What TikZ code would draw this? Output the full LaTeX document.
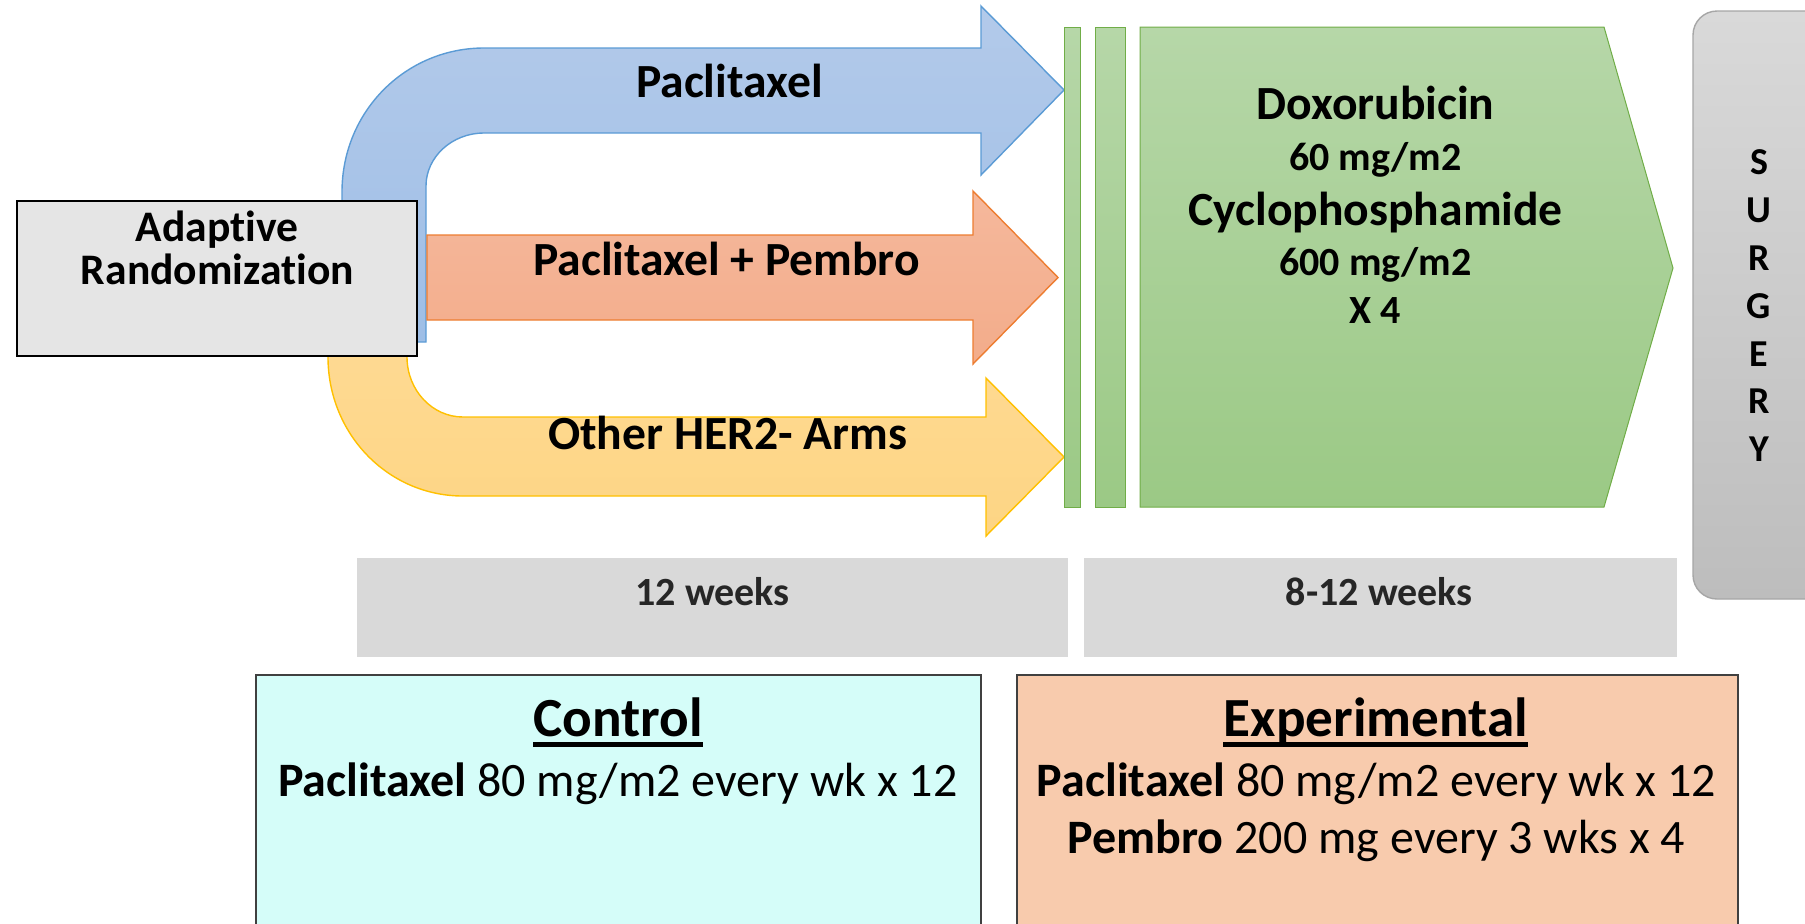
\documentclass[tikz,border=0pt]{standalone}
\usepackage{fontspec}
\setmainfont[Ligatures=NoCommon]{Carlito}
\definecolor{blueline}{HTML}{5B9BD5}
\definecolor{bluetop}{HTML}{B3CAEA}
\definecolor{bluebot}{HTML}{9EBEE6}
\definecolor{orangeline}{HTML}{ED7D31}
\definecolor{orangetop}{HTML}{F5B89C}
\definecolor{orangebot}{HTML}{F3AC8A}
\definecolor{yellowline}{HTML}{FFC000}
\definecolor{yellowtop}{HTML}{FFDB96}
\definecolor{yellowbot}{HTML}{FDD584}
\definecolor{greenline}{HTML}{70AD47}
\definecolor{greentop}{HTML}{B6D7A8}
\definecolor{greenbot}{HTML}{9BC985}
\definecolor{surgtop}{HTML}{D9D9D9}
\definecolor{surgbot}{HTML}{BDBDBD}
\definecolor{weekfill}{HTML}{D9D9D9}
\definecolor{ctrlfill}{HTML}{D5FDF9}
\definecolor{expfill}{HTML}{F8CBAD}
\begin{document}
\begin{tikzpicture}[x=0.5pt,y=-0.5pt,
	armlbl/.style={font=\fontsize{23.8}{28}\selectfont\bfseries,anchor=base,inner sep=0pt},
	doselbl/.style={font=\fontsize{20}{24}\selectfont\bfseries,anchor=base,inner sep=0pt},
	bodylbl/.style={font=\fontsize{24}{28}\selectfont,anchor=base,inner sep=0pt},
	headlbl/.style={font=\fontsize{27.6}{32}\selectfont\bfseries,anchor=base,inner sep=0pt},
	greenbar/.style={draw=greenline,line width=0.5pt,top color=greentop,bottom color=greenbot}]
	\useasboundingbox (0,0) rectangle (1805,923);
	\clip (0,0) rectangle (1805,923);
	% arms
	\draw[yellowline,line width=0.7pt,top color=yellowtop,bottom color=yellowbot] (328,300) -- (328,357) .. controls (328,434) and (388,496) .. (463,496) -- (986,496) -- (986,536) -- (1064,457) -- (986,378) -- (986,417) -- (463,417) .. controls (432,417) and (407,390) .. (407,357) -- (407,300) -- cycle;
	\draw[blueline,line width=0.7pt,top color=bluetop,bottom color=bluebot] (342,342) -- (342,192) .. controls (342,111) and (406,48) .. (484,48) -- (981,48) -- (981,6) -- (1064,90) -- (981,175) -- (981,133) -- (484,133) .. controls (452,133) and (426,157) .. (426,186) -- (426,342) -- cycle;
	\draw[orangeline,line width=0.7pt,top color=orangetop,bottom color=orangebot] (427,235) -- (973,235) -- (973,191) -- (1058,277.5) -- (973,364) -- (973,320) -- (427,320) -- cycle;
	\draw[line width=1.3pt,fill=black!10] (17,201) rectangle (417,356);
	\node[armlbl] (adapt1) at (217,241.8) {\fontsize{21.8}{26}\selectfont Adaptive};
	\node[armlbl] (adapt2) at (217.5,284.6) {\fontsize{21.8}{26}\selectfont Randomization};
	\node[armlbl] (armctrl) at (729.5,97) {Paclitaxel};
	\node[armlbl] (armpemb) at (726.5,275.7) {Paclitaxel + Pembro};
	\node[armlbl] (armother) at (727.7,449) {Other HER2- Arms};
	% AC
	\path[greenbar] (1064,27) rectangle (1080,507);
	\path[greenbar] (1095,27) rectangle (1125,507);
	\path[greenbar] (1140,27) -- (1604,27) -- (1673,268) -- (1604,507) -- (1140,507) -- cycle;
	\node[armlbl] (dox) at (1375.5,119.4) {Doxorubicin};
	\node[doselbl] (doxdose) at (1375.5,170) {60 mg/m2};
	\node[armlbl] (cyc) at (1375.5,225.4) {Cyclophosphamide};
	\node[doselbl] (cycdose) at (1375.5,275.6) {600 mg/m2};
	\node[doselbl] (cycles) at (1375.5,323.4) {X 4};
	% surgery
	\draw[black!35,line width=0.7pt,top color=surgtop,bottom color=surgbot,rounded corners=12pt] (1693,11) rectangle (1840,599);
	\foreach \l [count=\i from 0] in {S,U,R,G,E,R,Y}
		\node[doselbl,font=\fontsize{19}{23}\selectfont\bfseries] (surg\i) at (1759,{174.8+47.8*\i}) {\l};
	% weeks
	\fill[weekfill] (357,558) rectangle (1068,657);
	\fill[weekfill] (1084,558) rectangle (1677,657);
	\node[doselbl,text=black!85] (wk1) at (712.6,605) {12 weeks};
	\node[doselbl,text=black!85] (wk2) at (1379.3,605) {8-12 weeks};
	% control / experimental
	\draw[black!75,line width=0.6pt,fill=ctrlfill] (256,675) rectangle (981,950);
	\draw[black!75,line width=0.6pt,fill=expfill] (1017,675) rectangle (1738,950);
	\node[headlbl] (ctrl) at (618.3,736.7) {Control};
	\draw[line width=2.4pt] ([yshift=-3.7pt]ctrl.base west) -- ([yshift=-3.7pt]ctrl.base east);
	\node[bodylbl] (ctrldose) at (617.8,796.7) {\textbf{Paclitaxel} 80 mg/m2 every wk x 12};
	\node[headlbl] (expt) at (1375.8,736.7) {Experimental};
	\draw[line width=2.4pt] ([yshift=-3.7pt]expt.base west) -- ([yshift=-3.7pt]expt.base east);
	\node[bodylbl] (exptdose) at (1376.4,796.7) {\textbf{Paclitaxel} 80 mg/m2 every wk x 12};
	\node[bodylbl] (exptpemb) at (1376.4,853.3) {\textbf{Pembro} 200 mg every 3 wks x 4};
\end{tikzpicture}
\end{document}
